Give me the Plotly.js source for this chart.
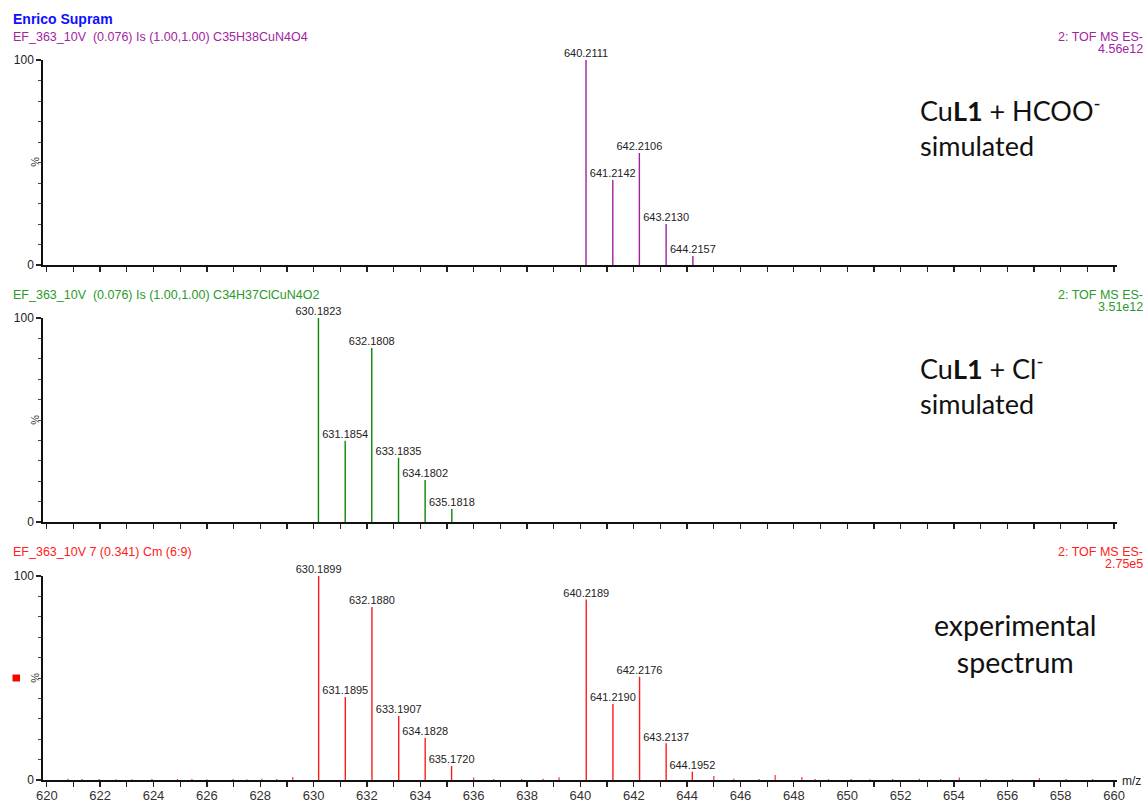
<!DOCTYPE html>
<html>
<head>
<meta charset="utf-8">
<script src="https://cdn.plot.ly/plotly-3.0.1.min.js"></script>
<style>html,body{margin:0;padding:0;background:#fff;}#chart{width:1148px;height:803px;}</style>
</head>
<body>
<div id="chart"></div>
<script>
// ---- data ----
// Panel 1: CuL1 + HCOO- simulated
const hcooMz = [640.2111, 641.2142, 642.2106, 643.2130, 644.2157];
const hcooInt = [100, 41.5, 54.6, 20.0, 4.4];
const hcooLabels = ["640.2111", "641.2142", "642.2106", "643.2130", "644.2157"];
// Panel 2: CuL1 + Cl- simulated
const clMz = [630.1823, 631.1854, 632.1808, 633.1835, 634.1802, 635.1818];
const clInt = [100, 39.8, 85.3, 31.5, 20.6, 6.4];
const clLabels = ["630.1823", "631.1854", "632.1808", "633.1835", "634.1802", "635.1818"];
// Panel 3: experimental spectrum (labelled peaks)
const expMz = [630.1899, 631.1895, 632.1880, 633.1907, 634.1828, 635.1720, 640.2189, 641.2190, 642.2176, 643.2137, 644.1952];
const expInt = [100, 40.7, 84.8, 31.4, 20.6, 6.9, 88.5, 37.3, 50.6, 18.0, 4.1];
const expLabels = ["630.1899", "631.1895", "632.1880", "633.1907", "634.1828", "635.1720", "640.2189", "641.2190", "642.2176", "643.2137", "644.1952"];
// Panel 3: small unlabelled noise peaks
const noiseMz = [620.8, 621.32, 621.96, 622.6, 623.2, 623.94, 624.9, 625.44, 626.0, 626.98, 627.5, 628.06, 628.62, 629.22,
  636.0, 636.75, 637.8, 638.6, 639.2, 645.0, 645.75, 646.7, 647.3, 648.3, 648.8, 649.3, 650.15, 650.85, 651.7, 652.7,
  653.5, 654.2, 655.2, 656.2, 657.2, 658.2, 659.2];
const noiseInt = [0.6, 0.5, 0.5, 0.4, 0.4, 0.5, 0.5, 0.5, 0.4, 0.5, 0.4, 0.6, 0.5, 1.5,
  1.2, 0.5, 0.5, 0.6, 1.4, 2.0, 0.6, 0.5, 2.5, 1.5, 0.5, 0.4, 0.5, 0.4, 0.5, 0.6,
  0.5, 1.2, 0.5, 0.5, 1.0, 0.5, 0.5];

const xTickVals = [620, 622, 624, 626, 628, 630, 632, 634, 636, 638, 640, 642, 644, 646, 648, 650, 652, 654, 656, 658, 660];
const yTickVals = [0, 100];
const yTickText = ["0", "100"];

// header texts
const panelHeaders = [
  {left: "EF_363_10V&nbsp; (0.076) Is (1.00,1.00) C35H38CuN4O4", right1: "2: TOF MS ES-", right2: "4.56e12", color: "#a3249f"},
  {left: "EF_363_10V&nbsp; (0.076) Is (1.00,1.00) C34H37ClCuN4O2", right1: "2: TOF MS ES-", right2: "3.51e12", color: "#2a9a2a"},
  {left: "EF_363_10V 7 (0.341) Cm (6:9)", right1: "2: TOF MS ES-", right2: "2.75e5", color: "#ff2020"}
];

// ---- helpers ----
function stems(mz, inten) {
  const x = [], y = [];
  mz.forEach((m, i) => { x.push(m, m, null); y.push(0, inten[i], null); });
  return {x, y};
}
const W = 1148, H = 803;
const px = v => v / W;
const py = v => 1 - v / H;

const traces = [];
function addPanel(mz, inten, labels, color, ax, width) {
  const s = stems(mz, inten);
  traces.push({type: "scatter", mode: "lines", x: s.x, y: s.y, xaxis: ax.x, yaxis: ax.y,
    line: {color: color, width: width || 1.4}, hoverinfo: "skip", showlegend: false});
  if (labels) {
    traces.push({type: "scatter", mode: "text", x: mz, y: inten, text: labels, xaxis: ax.x, yaxis: ax.y,
      textposition: "top center", textfont: {family: "Liberation Sans, Arial, sans-serif", size: 11, color: "#222"},
      hoverinfo: "skip", showlegend: false, cliponaxis: false});
  }
}
addPanel(hcooMz, hcooInt, hcooLabels, "#a0209f", {x: "x", y: "y"});
addPanel(clMz, clInt, clLabels, "#0a850a", {x: "x2", y: "y2"});
addPanel(expMz, expInt, expLabels, "#ff1a1a", {x: "x3", y: "y3"});
addPanel(noiseMz, noiseInt, null, "#ff3030", {x: "x3", y: "y3"}, 1.2);

const xRange = [619.87, 660.1];
const xDomain = [px(43.3), px(1116.7)];
function xAxis(showLabels, anchor) {
  return {range: xRange, domain: xDomain, anchor: anchor, showgrid: false, zeroline: false,
    showline: true, linecolor: "#111", linewidth: 2,
    tickmode: "array", tickvals: xTickVals, ticks: "outside", ticklen: 5, tickwidth: 1.3, tickcolor: "#222",
    showticklabels: showLabels, ticklabelstandoff: -3,
    tickfont: {family: "Liberation Sans, Arial, sans-serif", size: 13, color: "#333"},
    minor: {dtick: 1, ticks: "outside", ticklen: 5, tickwidth: 1.3, tickcolor: "#222"}};
}
function yAxis(bottomPx, topPx, anchor) {
  return {range: [0, 100], domain: [py(bottomPx), py(topPx)], anchor: anchor, showgrid: false, zeroline: false,
    showline: true, linecolor: "#111", linewidth: 2,
    tickmode: "array", tickvals: yTickVals, ticktext: yTickText, ticks: "outside", ticklen: 5, tickwidth: 1.2, tickcolor: "#222",
    tickfont: {family: "Liberation Sans, Arial, sans-serif", size: 12, color: "#222"},
    minor: {dtick: 10, ticks: "outside", ticklen: 3, tickwidth: 1, tickcolor: "#444"}};
}

const annotations = [];
const hdrFont = (c, s) => ({family: "Liberation Sans, Arial, sans-serif", size: s || 12.5, color: c});
annotations.push({xref: "paper", yref: "paper", x: px(11), y: py(19), xanchor: "left", yanchor: "middle",
  text: "<b>Enrico Supram</b>", showarrow: false, font: hdrFont("#1010ff", 14)});
const hdrY = [37, 295, 552];
panelHeaders.forEach((h, i) => {
  annotations.push({xref: "paper", yref: "paper", x: px(11), y: py(hdrY[i]), xanchor: "left", yanchor: "middle",
    text: h.left, showarrow: false, font: hdrFont(h.color)});
  annotations.push({xref: "paper", yref: "paper", x: px(1145), y: py(hdrY[i]), xanchor: "right", yanchor: "middle",
    text: h.right1, showarrow: false, font: hdrFont(h.color)});
  annotations.push({xref: "paper", yref: "paper", x: px(1145), y: py(hdrY[i] + 12), xanchor: "right", yanchor: "middle",
    text: h.right2, showarrow: false, font: hdrFont(h.color)});
});
// % labels on y axes
[162, 420, 678].forEach(y => {
  annotations.push({xref: "paper", yref: "paper", x: px(35), y: py(y), xanchor: "center", yanchor: "middle",
    text: "%", textangle: 90, showarrow: false, font: hdrFont("#333", 11)});
});
// m/z
annotations.push({xref: "paper", yref: "paper", x: px(1120), y: py(781), xanchor: "left", yanchor: "middle",
  text: "m/z", showarrow: false, font: hdrFont("#222", 12)});
// panel captions
const capFont = {family: "Lato, Noto Sans, sans-serif", size: 27, color: "#111"};
annotations.push({xref: "paper", yref: "paper", x: px(918), y: py(127), xanchor: "left", yanchor: "middle", align: "left",
  text: "Cu<b>L1</b> + HCOO<sup>-</sup><br>simulated", showarrow: false, font: capFont});
annotations.push({xref: "paper", yref: "paper", x: px(918), y: py(385), xanchor: "left", yanchor: "middle", align: "left",
  text: "Cu<b>L1</b> + Cl<sup>-</sup><br>simulated", showarrow: false, font: capFont});
annotations.push({xref: "paper", yref: "paper", x: px(1016), y: py(643), xanchor: "center", yanchor: "middle", align: "center",
  text: "experimental<br>spectrum", showarrow: false, font: Object.assign({}, capFont, {size: 28.5})});

const layout = {
  width: W, height: H, margin: {l: 0, r: 0, t: 0, b: 0},
  paper_bgcolor: "#fff", plot_bgcolor: "#fff", showlegend: false,
  xaxis: xAxis(false, "y"), yaxis: yAxis(265, 60, "x"),
  xaxis2: xAxis(false, "y2"), yaxis2: yAxis(522, 318, "x2"),
  xaxis3: xAxis(true, "y3"), yaxis3: yAxis(780, 576, "x3"),
  annotations: annotations,
  shapes: [{type: "rect", xref: "paper", yref: "paper", x0: px(12.5), x1: px(20), y0: py(681.5), y1: py(674.5),
    fillcolor: "#ff0000", line: {width: 0}}]
};

Plotly.newPlot("chart", traces, layout, {staticPlot: true});
</script>
</body>
</html>
